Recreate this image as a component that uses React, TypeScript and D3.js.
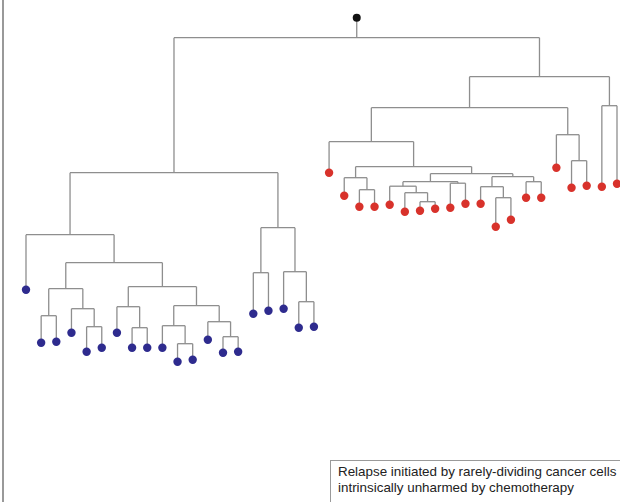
import React from 'react';
import * as d3 from 'd3';

// [id, parent, time] - listed in left-to-right preorder so stratify keeps leaf order
type Row = [string, string, number];

const trunk: Row[] = [
  ['root', '', 0],
  ['split', 'root', 20],
];

const sensitiveClade: Row[] = [
  ['L', 'split', 155],
  ['L1', 'L', 217],
  ['b1', 'L1', 272],
  ['L1r', 'L1', 245],
  ['n66', 'L1r', 271],
  ['n48', 'n66', 298], ['b2', 'n48', 325], ['b3', 'n48', 324],
  ['n83', 'n66', 291], ['b4', 'n83', 315],
  ['n94', 'n83', 309], ['b5', 'n94', 334], ['b6', 'n94', 330],
  ['n163', 'L1r', 269],
  ['n128', 'n163', 289], ['b7', 'n128', 315],
  ['n140', 'n128', 310], ['b8', 'n140', 330], ['b9', 'n140', 330],
  ['n197', 'n163', 288],
  ['n174', 'n197', 308], ['b10', 'n174', 330],
  ['n185', 'n174', 326], ['b11', 'n185', 344], ['b12', 'n185', 342],
  ['n219', 'n197', 304], ['b13', 'n219', 322],
  ['n230', 'n219', 319], ['b14', 'n230', 335], ['b15', 'n230', 334],
  ['L2', 'L', 210],
  ['n261', 'L2', 255], ['b16', 'n261', 296], ['b17', 'n261', 293],
  ['n295', 'L2', 254], ['b18', 'n295', 291],
  ['n307', 'n295', 284], ['b19', 'n307', 310], ['b20', 'n307', 309],
];

const relapseClade: Row[] = [
  ['R', 'split', 59],
  ['R1', 'R', 90],
  ['R1a', 'R1', 124],
  ['r1', 'R1a', 155],
  ['n414', 'R1a', 149],
  ['n355', 'n414', 160], ['r2', 'n355', 178],
  ['n367', 'n355', 172], ['r3', 'n367', 189], ['r4', 'n367', 189],
  ['n472', 'n414', 156],
  ['n430', 'n472', 164],
  ['n403', 'n430', 168.5], ['r5', 'n403', 187],
  ['n416', 'n403', 175], ['r6', 'n416', 194],
  ['n427', 'n416', 184], ['r7', 'n427', 193], ['r8', 'n427', 191],
  ['n458', 'n430', 165.5], ['r9', 'n458', 190], ['r10', 'n458', 186],
  ['n513', 'n472', 159],
  ['n492', 'n513', 169], ['r11', 'n492', 186],
  ['n504', 'n492', 180], ['r12', 'n504', 209], ['r13', 'n504', 202],
  ['n534', 'n513', 164], ['r14', 'n534', 180], ['r15', 'n534', 180],
  ['R1b', 'R1', 117], ['r16', 'R1b', 150],
  ['n579', 'R1b', 143], ['r17', 'n579', 170], ['r18', 'n579', 168],
  ['R2', 'R', 88], ['r19', 'R2', 169], ['r20', 'R2', 166],
];

const legendLines = [
  'Relapse initiated by rarely-dividing cancer cells',
  'intrinsically unharmed by chemotherapy',
];

const lineColor = '#8e8e8e';
const blue = '#2e2b8e';
const red = '#d8322b';

export default function App() {
  const rows = [...trunk, ...sensitiveClade, ...relapseClade];
  const blueIds = new Set(sensitiveClade.map(r => r[0]));

  const root = d3.stratify<Row>()
    .id(d => d[0])
    .parentId(d => (d[1] === '' ? null : d[1]))(rows);

  const leaves = root.leaves();
  const x = d3.scaleLinear().domain([0, leaves.length - 1]).range([26, 617]);
  const y = d3.scaleLinear().domain([0, 350]).range([17.7, 367.7]);

  const pos = new Map<string, { x: number; y: number }>();
  leaves.forEach((l, i) => pos.set(l.id!, { x: x(i), y: y(l.data[2]) }));
  root.eachAfter(n => {
    if (n.children) {
      const first = pos.get(n.children[0].id!)!;
      const last = pos.get(n.children[n.children.length - 1].id!)!;
      pos.set(n.id!, { x: (first.x + last.x) / 2, y: y(n.data[2]) });
    }
  });

  const links: JSX.Element[] = [];
  root.descendants().forEach(n => {
    const p = pos.get(n.id!)!;
    if (n.parent) {
      const pp = pos.get(n.parent.id!)!;
      links.push(<line key={'v' + n.id} x1={p.x} x2={p.x} y1={pp.y} y2={p.y} />);
    }
    if (n.children && n.children.length > 1) {
      const a = pos.get(n.children[0].id!)!;
      const b = pos.get(n.children[n.children.length - 1].id!)!;
      links.push(<line key={'h' + n.id} x1={a.x} x2={b.x} y1={p.y} y2={p.y} />);
    }
  });

  const rootPos = pos.get('root')!;

  return (
    <svg width={620} height={502} style={{ position: 'absolute', left: 0, top: 0 }}>
      <rect width={620} height={502} fill="#fff" />
      <line x1={3} x2={3} y1={0} y2={502} stroke="#777" strokeWidth={1.5} />
      <g stroke={lineColor} strokeWidth={1.3} fill="none">{links}</g>
      {leaves.map(l => {
        const p = pos.get(l.id!)!;
        return <circle key={l.id} cx={p.x} cy={p.y} r={4.2} fill={blueIds.has(l.id!) ? blue : red} />;
      })}
      <circle cx={rootPos.x} cy={rootPos.y} r={4} fill="#111" />
      <rect x={330.5} y={460.5} width={320} height={60} fill="#fff" stroke="#9a9a9a" strokeWidth={1} />
      {legendLines.map((t, i) => (
        <text key={i} x={338} y={476 + i * 16} fontFamily="'Liberation Sans', Arial, sans-serif" fontSize={13.4} fill="#222">
          {t}
        </text>
      ))}
    </svg>
  );
}
